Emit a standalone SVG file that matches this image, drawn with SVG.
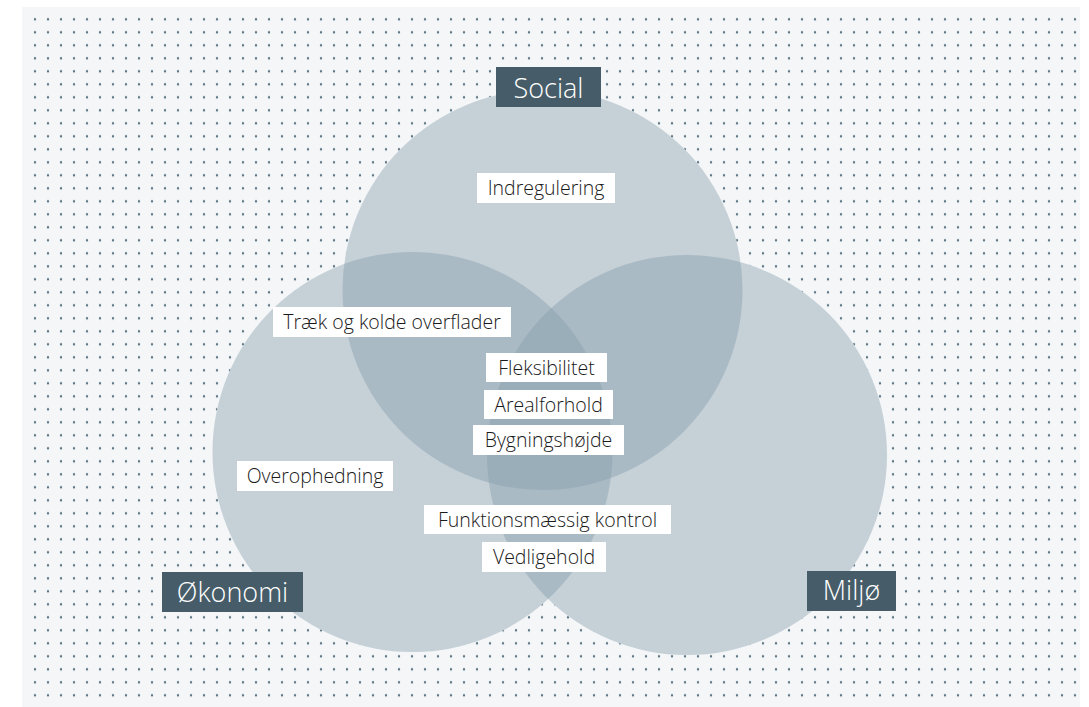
<svg xmlns="http://www.w3.org/2000/svg" width="1089" height="707" viewBox="0 0 1089 707">
<defs>
<pattern id="dots" x="9" y="6.3" width="13" height="13" patternUnits="userSpaceOnUse">
<circle cx="13" cy="13" r="1.2" fill="#5b7381"/>
<circle cx="0" cy="0" r="1.2" fill="#5b7381"/>
<circle cx="13" cy="0" r="1.2" fill="#5b7381"/>
<circle cx="0" cy="13" r="1.2" fill="#5b7381"/>
</pattern>
<style>
.base{fill:#f4f6f8}
.set{fill:#879eab;fill-opacity:0.43}
.hdr{fill:#465d69}
.hdrt{fill:#ffffff;font-family:"Open Sans","Noto Sans",sans-serif;font-weight:300;font-size:27px;text-anchor:middle}
.lbl{fill:#ffffff}
.lblt{fill:#1a1a1a;font-family:"Open Sans","Noto Sans",sans-serif;font-weight:300;font-size:19.5px;text-anchor:middle}
</style>
</defs>
<rect x="22" y="7" width="1058" height="700" fill="#f4f6f8"/>
<rect x="29" y="13" width="1050" height="689" fill="url(#dots)"/>
<g id="bases">
<circle class="base" cx="542.5" cy="290" r="200"/>
<circle class="base" cx="412.5" cy="452" r="200"/>
<circle class="base" cx="687" cy="455" r="200"/>
</g>
<g id="sets">
<circle id="set-social" class="set" cx="542.5" cy="290" r="200"/>
<circle id="set-okonomi" class="set" cx="412.5" cy="452" r="200"/>
<circle id="set-miljo" class="set" cx="687" cy="455" r="200"/>
</g>
<g id="connectors"></g>
<g id="social"><rect class="hdr" x="496" y="67" width="105" height="40"/><text class="hdrt" x="548.5" y="97.5">Social</text></g>
<g id="okonomi"><rect class="hdr" x="162" y="572" width="141" height="40"/><text class="hdrt" x="232.5" y="601.5">Økonomi</text></g>
<g id="miljo"><rect class="hdr" x="807" y="571" width="89" height="40"/><text class="hdrt" x="851.5" y="600">Miljø</text></g>
<g id="indregulering"><rect class="lbl" x="477" y="173" width="138" height="30"/><text class="lblt" x="546" y="195">Indregulering</text></g>
<g id="traek"><rect class="lbl" x="273" y="307" width="238" height="30"/><text class="lblt" x="392" y="329">Træk og kolde overflader</text></g>
<g id="fleksibilitet"><rect class="lbl" x="486" y="353" width="121" height="29"/><text class="lblt" x="546.5" y="374.5">Fleksibilitet</text></g>
<g id="arealforhold"><rect class="lbl" x="484" y="390" width="129" height="29"/><text class="lblt" x="548.5" y="411.5">Arealforhold</text></g>
<g id="bygningshojde"><rect class="lbl" x="473" y="425" width="151" height="30"/><text class="lblt" x="548.5" y="447">Bygningshøjde</text></g>
<g id="overophedning"><rect class="lbl" x="237" y="461" width="156" height="30"/><text class="lblt" x="315" y="483">Overophedning</text></g>
<g id="funktion"><rect class="lbl" x="424" y="505" width="247" height="29"/><text class="lblt" x="547.5" y="526.5">Funktionsmæssig kontrol</text></g>
<g id="vedligehold"><rect class="lbl" x="482" y="542" width="124" height="30"/><text class="lblt" x="544" y="564">Vedligehold</text></g>
</svg>
